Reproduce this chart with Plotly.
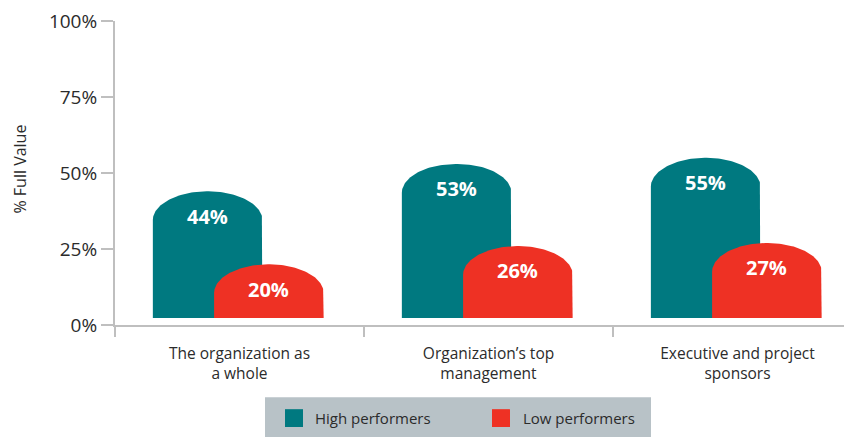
import numpy as np
import plotly.graph_objects as go

categories = ["The organization as<br>a whole", "Organization’s top<br>management", "Executive and project<br>sponsors"]
high_performers = [44, 53, 55]
low_performers = [20, 26, 27]
series_names = ["High performers", "Low performers"]
y_ticks = [0, 25, 50, 75, 100]
y_tick_labels = ["0%", "25%", "50%", "75%", "100%"]

TEAL = "#007980"
RED = "#ee3124"
AXIS = "#bfbfbf"
TEXT = "#2b2b2b"
FONT = "Open Sans, Noto Sans, sans-serif"

# the page body has an 8px margin; the figure is placed at (8, 8)
OFF = 8
W, H = 852 - OFF, 438 - OFF
ML, MR, MT = 115 - OFF, 0, 18 - OFF
MB = H - (325 - OFF)
PW, PH = W - ML - MR, H - MT - MB

X_MIN = -0.5
X_MAX = X_MIN + PW / 249.0
BAR_W = 0.44
OFFSETS = [-0.128, 0.118]
DOME = 9.5
BASE = 2.3


def px2x(px):
    return (px - OFF - ML) / PW


def py2y(py):
    return (H - MB - (py - OFF)) / PH


def dome_bar(xc, value, w=BAR_W, dome=DOME, base=BASE, n=2.0):
    t = np.linspace(0, np.pi, 90)
    c, s = np.cos(t), np.sin(t)
    xs = xc + (w / 2) * np.sign(c) * np.abs(c) ** (2 / n)
    ys = (value - dome) + dome * np.abs(s) ** (2 / n)
    x = [xc + w / 2] + list(xs) + [xc - w / 2, xc + w / 2]
    y = [base] + list(ys) + [base, base]
    return x, y


fig = go.Figure()
annotations = []
for vals, color, off in [(high_performers, TEAL, OFFSETS[0]), (low_performers, RED, OFFSETS[1])]:
    for i, v in enumerate(vals):
        xc = i + off
        bx, by = dome_bar(xc, v)
        fig.add_trace(go.Scatter(x=bx, y=by, fill="toself", fillcolor=color, mode="lines",
                                 line=dict(width=0, color=color), showlegend=False, hoverinfo="skip"))
        annotations.append(dict(x=xc, y=v, xref="x", yref="y", text=f"<b>{v}%</b>", showarrow=False,
                                yshift=-25, yanchor="middle",
                                font=dict(family=FONT, size=20, color="white")))

# y-axis title
annotations.append(dict(x=px2x(20), y=py2y(168), xref="paper", yref="paper", text="% Full Value",
                        textangle=-90, showarrow=False, xanchor="center", yanchor="middle",
                        font=dict(family=FONT, size=16, color=TEXT)))

# legend (manual box)
shapes = [
    dict(type="rect", xref="paper", yref="paper", x0=px2x(265), x1=px2x(651), y0=py2y(438), y1=py2y(398),
         fillcolor="#b8c2c7", line=dict(width=0), layer="below"),
    dict(type="rect", xref="paper", yref="paper", x0=px2x(285), x1=px2x(303), y0=py2y(428), y1=py2y(410),
         fillcolor=TEAL, line=dict(width=0)),
    dict(type="rect", xref="paper", yref="paper", x0=px2x(492), x1=px2x(510), y0=py2y(428), y1=py2y(410),
         fillcolor=RED, line=dict(width=0)),
]
for name, lx in zip(series_names, [313, 521]):
    annotations.append(dict(x=px2x(lx), y=py2y(419), xref="paper", yref="paper", text=name,
                            showarrow=False, xanchor="left", yanchor="middle",
                            font=dict(family=FONT, size=15, color=TEXT)))

fig.update_layout(
    width=W, height=H,
    margin=dict(l=ML, r=MR, t=MT, b=MB),
    plot_bgcolor="white", paper_bgcolor="white",
    font=dict(family=FONT, color=TEXT),
    showlegend=False,
    annotations=annotations,
    shapes=shapes,
    xaxis=dict(
        range=[X_MIN, X_MAX], tickmode="array", tickvals=list(range(len(categories))), ticktext=categories,
        ticks="", showgrid=False, zeroline=False, showline=True, linecolor=AXIS, linewidth=2,
        tickfont=dict(family=FONT, size=15.5, color=TEXT), fixedrange=True, ticklabelstandoff=13,
        minor=dict(tickmode="array", tickvals=[i - 0.5 for i in range(len(categories))],
                   ticks="outside", ticklen=10, tickwidth=2, tickcolor=AXIS, showgrid=False),
    ),
    yaxis=dict(
        range=[0, 100], tickmode="array", tickvals=y_ticks, ticktext=y_tick_labels,
        ticks="outside", ticklen=12, tickwidth=2, tickcolor=AXIS, showgrid=False, zeroline=False,
        showline=True, linecolor=AXIS, linewidth=2, tickfont=dict(family=FONT, size=19, color=TEXT),
        fixedrange=True, ticklabelstandoff=0, ticklabeloverflow="allow",
    ),
)

fig.write_html("out.html")
